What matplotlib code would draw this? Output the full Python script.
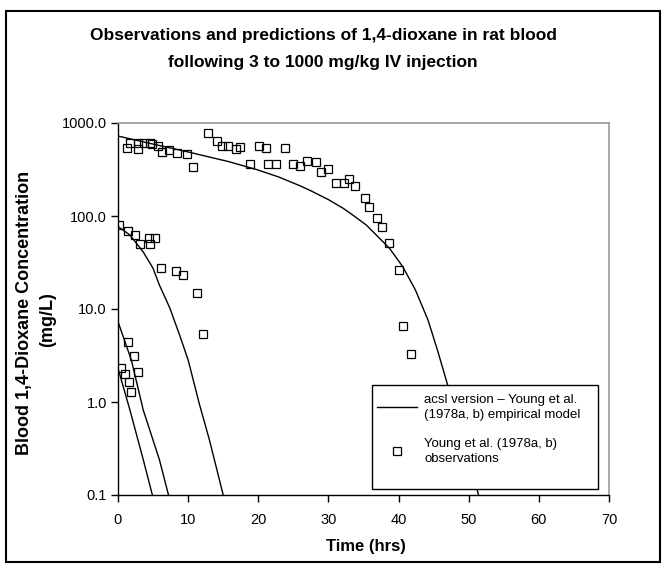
import matplotlib
matplotlib.use("Agg")
import matplotlib.pyplot as plt
from matplotlib.patches import Rectangle
from matplotlib.ticker import FixedLocator, FixedFormatter

plt.rcParams['font.family'] = ['Liberation Sans', 'DejaVu Sans']

# model curves
high_t = [0, 4.5, 10.2, 15.8, 19.8, 22.9, 25.9, 27.6, 30.0, 32.1, 33.5, 35.4, 38.7, 40.6, 42.4, 44.2, 45.6, 47.0, 49.2, 50.5, 51.4]
high_c = [724, 605, 484, 384, 315, 263, 212, 185, 150, 121, 102, 80, 45, 28.5, 16, 7.6, 3.5, 1.52, 0.45, 0.18, 0.1]
mid_t = [0, 1.7, 3.6, 5.0, 5.9, 7.4, 8.8, 10.0, 11.6, 13.0, 15.0]
mid_c = [77, 62.5, 41, 27.4, 18.1, 10.2, 5.2, 2.83, 0.95, 0.4, 0.1]
low_b_t = [0, 1.9, 3.6, 5.9, 7.2]
low_b_c = [7.3, 2.83, 0.82, 0.24, 0.1]
low_a_t = [0, 1.7, 3.6, 4.9]
low_a_c = [2.3, 0.82, 0.24, 0.1]

# observations
obs_t = [1.3, 1.7, 2.8, 2.8, 3.7, 4.6, 4.8, 5.7, 6.3, 7.3, 8.4, 9.9, 10.7,
         12.9, 14.1, 14.8, 15.7, 16.8, 17.4, 18.8, 20.1, 21.1, 21.4, 22.5, 23.8,
         24.9, 26.0, 26.9, 28.2, 28.9, 29.9, 31.1, 32.2, 33.0, 33.8, 35.2, 35.8,
         36.9, 37.7, 38.7, 40.0, 40.6, 41.8,
         0.2, 1.4, 2.4, 3.2, 4.4, 4.6, 5.3, 6.2, 8.3, 9.3, 11.3, 12.1,
         0.38, 0.99, 1.46, 1.56, 1.8, 2.3, 2.8]
obs_c = [542, 614, 605, 521, 605, 614, 594, 566, 484, 508, 472, 468, 339,
         774, 645, 566, 566, 529, 556, 365, 562, 538, 365, 365, 542,
         365, 342, 393, 381, 295, 318, 228, 225, 248, 210, 156, 126,
         94, 77, 51, 26.2, 6.6, 3.26,
         79.4, 69.5, 62.5, 50, 57.5, 49.5, 57.5, 27.4, 25.6, 23, 14.9, 5.35,
         2.3, 1.99, 4.45, 1.65, 1.29, 3.12, 2.12]

x_ticks = [0, 10, 20, 30, 40, 50, 60, 70]
y_ticks = [0.1, 1, 10, 100, 1000]
y_tick_labels = ["0.1", "1.0", "10.0", "100.0", "1000.0"]

W, H = 663, 568


def fx(px):
    return px / W


def fy(py):
    return 1 - py / H


fig = plt.figure(figsize=(W / 100, H / 100), dpi=100)
fig.patches.append(Rectangle((fx(6), fy(562)), fx(654), 551 / H, transform=fig.transFigure,
                             fill=False, edgecolor='black', linewidth=1.5))

ax = fig.add_axes([fx(118), fy(495), fx(609 - 118), (495 - 123) / H])
ax.set_yscale('log')
ax.set_xlim(0, 70)
ax.set_ylim(0.1, 1000)

ax.plot(high_t, high_c, color='black', lw=1.0,
        label="acsl version \u2013 Young et al.\n(1978a, b) empirical model")
ax.plot(mid_t, mid_c, color='black', lw=1.0)
ax.plot(low_b_t, low_b_c, color='black', lw=1.0)
ax.plot(low_a_t, low_a_c, color='black', lw=1.0)
ax.plot(obs_t, obs_c, ls='none', marker='s', ms=5.8, mfc='none', mec='black', mew=0.9,
        label="Young et al. (1978a, b)\nobservations")

ax.xaxis.set_major_locator(FixedLocator(x_ticks))
ax.yaxis.set_major_locator(FixedLocator(y_ticks))
ax.yaxis.set_major_formatter(FixedFormatter(y_tick_labels))
ax.yaxis.set_minor_locator(FixedLocator([]))
ax.tick_params(direction='out', length=5, width=1, labelsize=10.5, color='black')
ax.tick_params(axis='x', pad=8)
ax.tick_params(axis='y', pad=3)
for s in ['top', 'right']:
    ax.spines[s].set_color('#999999')
    ax.spines[s].set_linewidth(1.2)
for s in ['left', 'bottom']:
    ax.spines[s].set_linewidth(1.0)

# legend box drawn by hand, entries placed inside it
fig.patches.append(Rectangle((fx(372), fy(489)), fx(598 - 372), (489 - 385) / H,
                             transform=fig.transFigure, facecolor='white',
                             edgecolor='black', linewidth=1.0, zorder=5))
leg = fig.legend(*ax.get_legend_handles_labels(), loc='upper left',
                 bbox_to_anchor=(fx(377), fy(394)), bbox_transform=fig.transFigure,
                 frameon=False, borderpad=0, borderaxespad=0, fontsize=9.5,
                 handlelength=3.0, handletextpad=0.6, labelspacing=1.3)
for t in leg.get_texts():
    t.set_linespacing(1.3)
leg.set_zorder(6)

fig.text(fx(323), fy(49),
         "Observations and predictions of 1,4-dioxane in rat blood\nfollowing 3 to 1000 mg/kg IV injection",
         ha='center', va='center', fontsize=12.5, fontweight='bold', linespacing=1.95)
fig.text(fx(25), fy(313), "Blood 1,4-Dioxane Concentration", rotation=90,
         ha='center', va='center', fontsize=13, fontweight='bold')
fig.text(fx(48), fy(320), "(mg/L)", rotation=90,
         ha='center', va='center', fontsize=13, fontweight='bold')
fig.text(fx(366), fy(546), "Time (hrs)", ha='center', va='center',
         fontsize=12, fontweight='bold')

fig.savefig("out.png", dpi=100)
